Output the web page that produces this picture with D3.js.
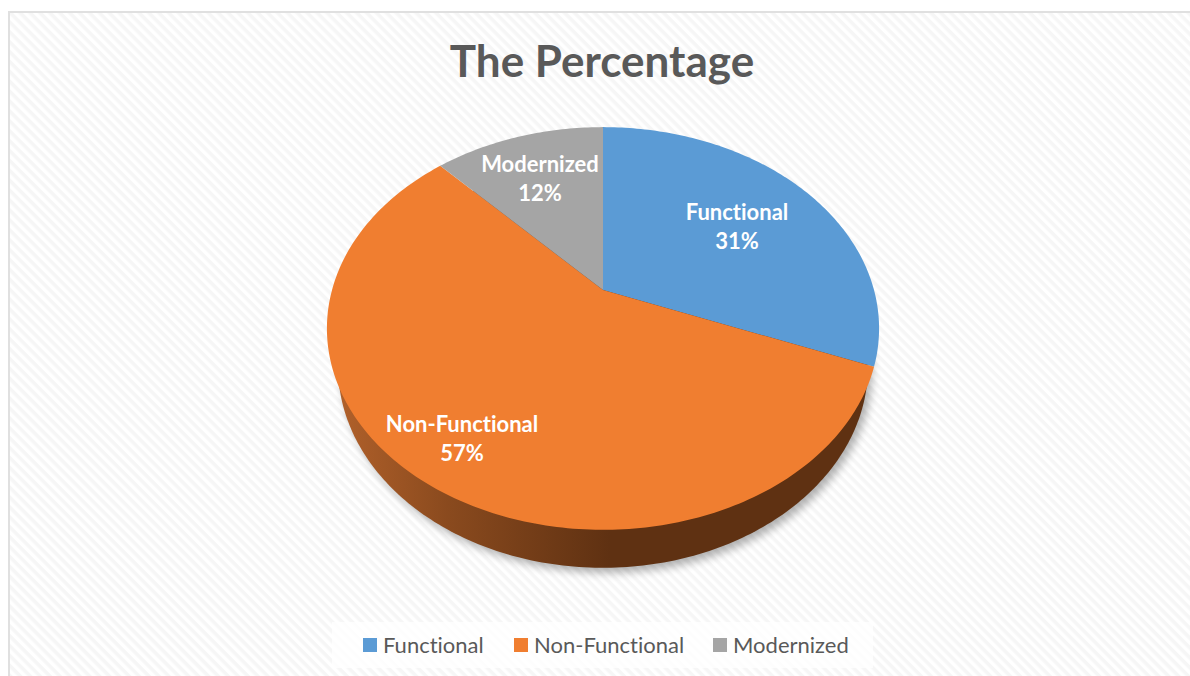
<!DOCTYPE html>
<html lang="en">
<head>
    <meta charset="UTF-8">
    <title>The Percentage</title>
    <script src="https://d3js.org/d3.v7.min.js"></script>
    <style>
        html, body { margin: 0; padding: 0; background: #fff; }
        svg { display: block; font-family: Lato, sans-serif; font-variant-ligatures: none; }
        .title { font-size: 44px; font-weight: 700; fill: #595959; text-anchor: middle; }
        .slice-label { font-size: 22px; font-weight: 700; fill: #fff; text-anchor: middle; }
        .legend-label { font-size: 22px; fill: #595959; }
    </style>
</head>
<body>
    <svg width="1190" height="676"></svg>
    <script>
        const categories = ["Functional", "Non-Functional", "Modernized"];
        const values = [31, 57, 12];
        const colors = ["#5b9bd5", "#f07e30", "#a5a5a5"];
        const chartTitle = "The Percentage";

        const svg = d3.select("svg");
        const defs = svg.append("defs");

        // hatch background
        const hatch = defs.append("pattern")
            .attr("id", "hatch")
            .attr("patternUnits", "userSpaceOnUse")
            .attr("width", 7).attr("height", 7)
            .attr("patternTransform", "rotate(45)");
        hatch.append("rect").attr("width", 7).attr("height", 7).attr("fill", "#fff");
        hatch.append("rect").attr("width", 7).attr("height", 3.5).attr("fill", "#f6f6f6");

        const wallGradient = defs.append("linearGradient")
            .attr("id", "wall")
            .attr("gradientUnits", "userSpaceOnUse")
            .attr("x1", 340).attr("x2", 610).attr("y1", 0).attr("y2", 0);
        wallGradient.append("stop").attr("offset", "0").attr("stop-color", "#b0602a");
        wallGradient.append("stop").attr("offset", "0.4").attr("stop-color", "#8a4a1e");
        wallGradient.append("stop").attr("offset", "1").attr("stop-color", "#5f3112");

        const blur = defs.append("filter").attr("id", "soft")
            .attr("x", "-10%").attr("y", "-10%").attr("width", "120%").attr("height", "120%");
        blur.append("feGaussianBlur").attr("stdDeviation", 4);

        // frame runs off the right and bottom of the picture
        svg.append("rect").attr("x", 9).attr("y", 12).attr("width", 1190).attr("height", 680)
            .attr("fill", "url(#hatch)").attr("stroke", "#e0e0e0").attr("stroke-width", 2);

        svg.append("text").attr("class", "title")
            .attr("x", 602).attr("y", 77).text(chartTitle);

        // tilted pie: circle of radius 1 seen in perspective, apex sits above the ellipse centre
        const apex = [603, 290];
        const persp = -0.191;
        const scaleX = d3.scaleLinear().domain([0, 1]).range([0, 271]);
        const scaleY = d3.scaleLinear().domain([0, 1]).range([0, 194]);
        const depth = 38;
        const wallShrink = 0.96;

        function project(angle, r) {
            const px = r * Math.sin(angle), py = -r * Math.cos(angle);
            const w = 1 + persp * py;
            return [apex[0] + scaleX(px) / w, apex[1] + scaleY(py) / w];
        }

        const pieData = d3.pie().sort(null).value(d => d)(values);
        const line = d3.line();

        function arcPoints(a0, a1) {
            const n = Math.max(2, Math.ceil((a1 - a0) * 60));
            return d3.range(n + 1).map(i => project(a0 + (a1 - a0) * i / n, 1));
        }

        function slicePath(d) {
            return line([apex, ...arcPoints(d.startAngle, d.endAngle)]) + "Z";
        }

        // side wall: the rim pushed down and pulled in a little, the pie covers the rest
        const ring = arcPoints(0, 2 * Math.PI);
        const wallPath = line(ring.map(p => [apex[0] + (p[0] - apex[0]) * wallShrink, p[1] + depth])) + "Z";

        svg.append("path").attr("d", wallPath)
            .attr("transform", "translate(4,5)")
            .attr("fill", "#000").attr("opacity", 0.3).attr("filter", "url(#soft)");
        svg.append("path").attr("d", wallPath).attr("fill", "url(#wall)");

        svg.selectAll(".slice").data(pieData).join("path")
            .attr("class", "slice")
            .attr("d", slicePath)
            .attr("fill", (d, i) => colors[i]);

        // slice labels
        const labelPos = [[737, 220], [462, 432], [540, 172]];
        const labels = svg.selectAll(".slice-label-g").data(pieData).join("g")
            .attr("transform", (d, i) => `translate(${labelPos[i]})`);
        labels.append("text").attr("class", "slice-label")
            .text((d, i) => categories[i]);
        labels.append("text").attr("class", "slice-label").attr("y", 29)
            .text(d => d.value + "%");

        // legend
        svg.append("rect").attr("x", 332).attr("y", 622).attr("width", 541).attr("height", 46)
            .attr("fill", "#fff").attr("opacity", 0.8);
        const legendX = [363, 514, 713];
        const legend = svg.selectAll(".legend").data(categories).join("g")
            .attr("class", "legend")
            .attr("transform", (d, i) => `translate(${legendX[i]},638)`);
        legend.append("rect").attr("width", 14).attr("height", 14)
            .attr("fill", (d, i) => colors[i]);
        legend.append("text").attr("class", "legend-label")
            .attr("x", 20).attr("y", 15).text(d => d);
    </script>
</body>
</html>
